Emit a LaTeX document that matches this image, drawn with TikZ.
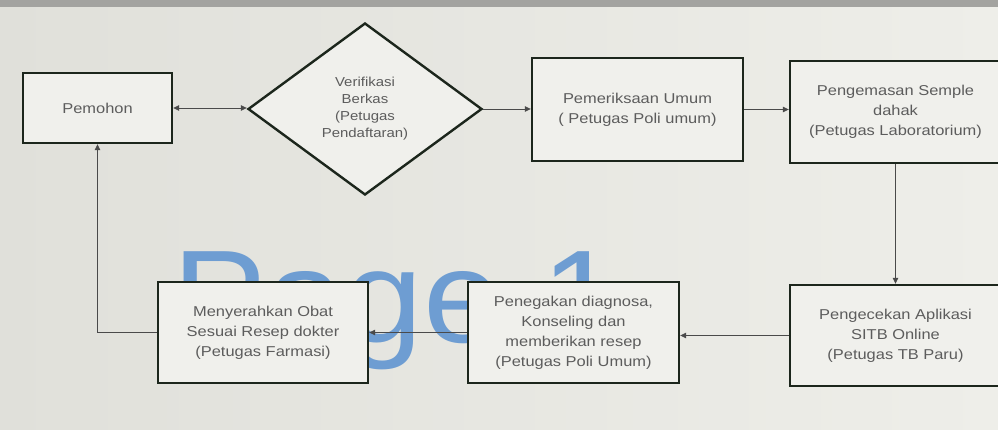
\documentclass[tikz,border=0pt]{standalone}
\usepackage{fontspec}
\setmainfont{Liberation Sans}
\newfontfamily\boxfont[FakeStretch=1.15]{Liberation Sans}
\newfontfamily\markfont[FakeStretch=1.07]{Liberation Sans}
\usetikzlibrary{shapes.geometric,arrows.meta}
\definecolor{bgA}{HTML}{E0E0DA}
\definecolor{bgB}{HTML}{EEEEE9}
\definecolor{boxfill}{HTML}{F0F0EC}
\definecolor{edge}{HTML}{1C261C}
\definecolor{txt}{HTML}{5C5C5C}
\definecolor{wline}{HTML}{4A4A4A}
\definecolor{wmark}{HTML}{6E9DD2}
\definecolor{topbar}{HTML}{A3A3A0}
\tikzset{
  procbox/.style={draw=edge, line width=2.4pt, fill=boxfill, rectangle, inner sep=2pt,
    align=center, text=txt, font=\boxfont\fontsize{14.3}{20}\selectfont},
  decbox/.style={draw=edge, line width=2.4pt, fill=boxfill, diamond, inner sep=0pt,
    align=center, text=txt, font=\boxfont\fontsize{13}{17}\selectfont,
    minimum width=234pt, minimum height=172pt},
  flow/.style={draw=wline, line width=0.8pt, -{Triangle[length=6pt,width=5.5pt]}},
  flowboth/.style={draw=wline, line width=0.8pt, {Triangle[length=6pt,width=5.5pt]}-{Triangle[length=6pt,width=5.5pt]}}
}
\begin{document}
\begin{tikzpicture}[x=1pt,y=-1pt]
\useasboundingbox (0,0) rectangle (998,430);
\clip (0,0) rectangle (998,430);
\shade[left color=bgA, right color=bgB] (0,0) rectangle (998,430);
\fill[topbar] (0,0) rectangle (998,7);
% watermark
\node[anchor=base west, inner sep=0pt, text=wmark, font=\markfont\fontsize{132}{132}\selectfont] (wm) at (172,342) {Page 1};
% nodes
\node[procbox, minimum width=149pt, minimum height=70pt] (pem) at (97.5,108) {Pemohon};
\node[decbox] (ver) at (365,109) {Verifikasi\\Berkas\\(Petugas\\Pendaftaran)};
\node[procbox, minimum width=211pt, minimum height=103pt] (per) at (637.5,109.5) {Pemeriksaan Umum\\( Petugas Poli umum)};
\node[procbox, minimum width=211pt, minimum height=102pt] (kem) at (895.5,112) {Pengemasan Semple\\dahak\\(Petugas Laboratorium)};
\node[procbox, minimum width=211pt, minimum height=101pt] (cek) at (895.5,335.5) {Pengecekan Aplikasi\\SITB Online\\(Petugas TB Paru)};
\node[procbox, minimum width=211pt, minimum height=101pt] (teg) at (573.5,332.5) {Penegakan diagnosa,\\Konseling dan\\memberikan resep\\(Petugas Poli Umum)};
\node[procbox, minimum width=210pt, minimum height=101pt] (ser) at (263,332.5) {Menyerahkan Obat\\Sesuai Resep dokter\\(Petugas Farmasi)};
% connectors
\draw[flowboth] (pem.east) -- (pem.east -| ver.west);
\draw[flow] (ver.east) -- (ver.east -| per.west);
\draw[flow] (per.east) -- (per.east -| kem.west);
\draw[flow] (kem.south) -- (cek.north);
\draw[flow] (cek.west) -- (cek.west -| teg.east);
\draw[flow] (teg.west) -- (teg.west -| ser.east);
\draw[flow] (ser.west) -| (pem.south);
\end{tikzpicture}
\end{document}
